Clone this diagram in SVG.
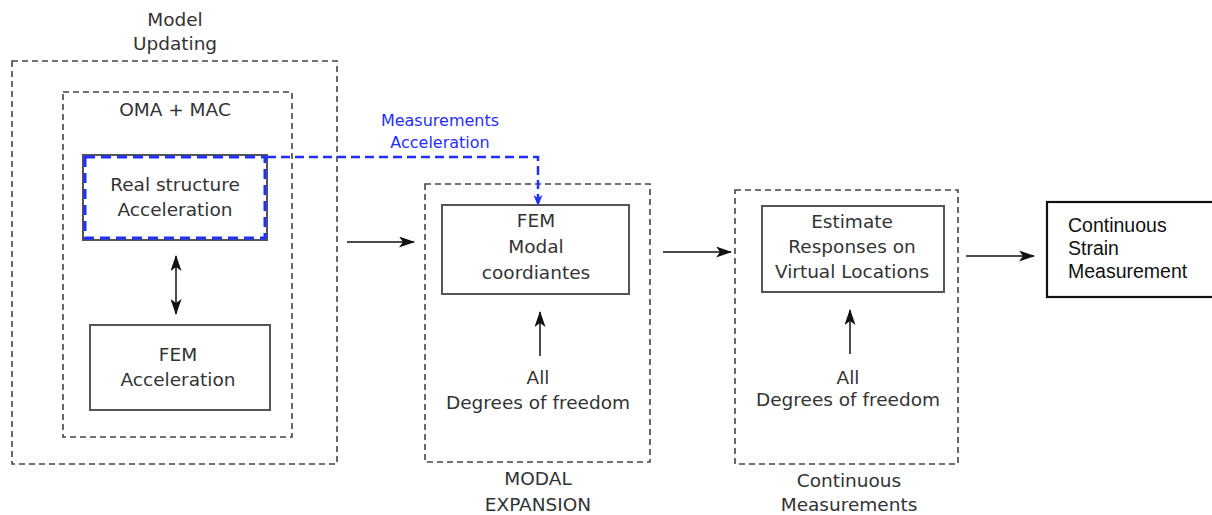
<svg xmlns="http://www.w3.org/2000/svg" width="1212" height="515" viewBox="0 0 1212 515">
<defs>
<marker id="ah" viewBox="0 0 16 11" refX="15" refY="5.5" markerWidth="16" markerHeight="11" markerUnits="userSpaceOnUse" orient="auto-start-reverse">
<path d="M0,0 L16,5.5 L0,11 L4,5.5 z" fill="#111"/>
</marker>
<marker id="ahb" viewBox="0 0 12 10" refX="11" refY="5" markerWidth="11" markerHeight="10" markerUnits="userSpaceOnUse" orient="auto">
<path d="M0,0 L12,5 L0,10 L3.5,5 z" fill="#1f2fff"/>
</marker>
</defs>
<style>
.dash{fill:none;stroke:#444;stroke-width:1.6;stroke-dasharray:6,4}
.box{fill:#fff;stroke:#555;stroke-width:2}
.t{font-family:"DejaVu Sans",sans-serif;font-size:18.5px;fill:#333;text-anchor:middle}
.b{font-family:"DejaVu Sans",sans-serif;font-size:16px;fill:#1f2fff;text-anchor:middle}
.h{font-family:"Liberation Sans",Arial,sans-serif;font-size:19.5px;fill:#111}
.c{fill:none;stroke:#111;stroke-width:1.5}
</style>
<g id="model-updating">
<rect class="dash" x="12" y="61" width="325" height="403"/>
<text class="t" x="175" y="26">Model</text>
<text class="t" x="175" y="50">Updating</text>
</g>
<g id="oma-mac">
<rect class="dash" x="63" y="92" width="229" height="345"/>
<text class="t" x="175" y="116">OMA + MAC</text>
</g>
<g id="real-structure">
<rect class="box" x="83" y="155" width="184" height="85"/>
<rect x="85" y="157" width="180" height="81" fill="none" stroke="#1f2fff" stroke-width="3" stroke-dasharray="10,6"/>
<text class="t" x="175" y="191">Real structure</text>
<text class="t" x="175" y="216">Acceleration</text>
</g>
<g id="fem-acceleration">
<rect class="box" x="90" y="325" width="180" height="85"/>
<text class="t" x="178" y="361">FEM</text>
<text class="t" x="178" y="386">Acceleration</text>
</g>
<g id="modal-expansion">
<rect class="dash" x="425" y="184" width="225" height="278"/>
<text class="t" x="538" y="485">MODAL</text>
<text class="t" x="538" y="511">EXPANSION</text>
</g>
<g id="fem-modal">
<rect class="box" x="442" y="205" width="187" height="89"/>
<text class="t" x="536" y="227">FEM</text>
<text class="t" x="536" y="253">Modal</text>
<text class="t" x="536" y="279">coordiantes</text>
</g>
<g id="dof-1">
<text class="t" x="538" y="384">All</text>
<text class="t" x="538" y="409">Degrees of freedom</text>
</g>
<g id="continuous-measurements">
<rect class="dash" x="735" y="190" width="223" height="274"/>
<text class="t" x="849" y="487">Continuous</text>
<text class="t" x="849" y="511">Measurements</text>
</g>
<g id="estimate">
<rect class="box" x="762" y="206" width="182" height="86"/>
<text class="t" x="852" y="228">Estimate</text>
<text class="t" x="852" y="253">Responses on</text>
<text class="t" x="852" y="278">Virtual Locations</text>
</g>
<g id="dof-2">
<text class="t" x="848" y="384">All</text>
<text class="t" x="848" y="406">Degrees of freedom</text>
</g>
<g id="continuous-strain">
<rect x="1047" y="202" width="170" height="95" fill="#fff" stroke="#111" stroke-width="2.2"/>
<text class="h" x="1068" y="232">Continuous</text>
<text class="h" x="1068" y="255">Strain</text>
<text class="h" x="1068" y="278">Measurement</text>
</g>
<g id="connectors">
<line class="c" x1="176" y1="256" x2="176" y2="314" marker-start="url(#ah)" marker-end="url(#ah)"/>
<line class="c" x1="347" y1="242" x2="414" y2="242" marker-end="url(#ah)"/>
<line class="c" x1="540" y1="356" x2="540" y2="312" marker-end="url(#ah)"/>
<line class="c" x1="663" y1="252" x2="731" y2="252" marker-end="url(#ah)"/>
<line class="c" x1="850" y1="354" x2="850" y2="310" marker-end="url(#ah)"/>
<line class="c" x1="966" y1="256" x2="1034" y2="256" marker-end="url(#ah)"/>
<polyline points="267,157 538,157 538,205" fill="none" stroke="#1f2fff" stroke-width="2.5" stroke-dasharray="9,5" marker-end="url(#ahb)"/>
<text class="b" x="440" y="126">Measurements</text>
<text class="b" x="440" y="148">Acceleration</text>
</g>
</svg>
